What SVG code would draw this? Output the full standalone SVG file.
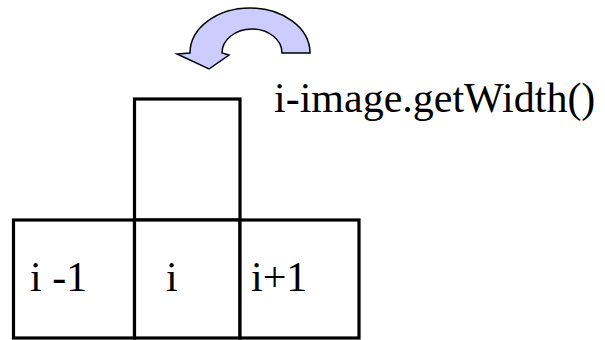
<svg xmlns="http://www.w3.org/2000/svg" width="605" height="340" viewBox="0 0 605 340">
  <style>
    .cell { fill: #ffffff; stroke: #000000; stroke-width: 3.2; }
    .lbl { font-family: "Liberation Serif", "Times New Roman", serif; font-size: 42px; fill: #000000; }
    .turn { fill: #ccccff; stroke: #000000; stroke-width: 1.5; stroke-linejoin: miter; }
  </style>
  <rect width="605" height="340" fill="#ffffff"/>

  <!-- curved arrow pointing back one row -->
  <g id="connectors">
    <path class="turn" d="M310,53 A60,45 0 0 0 190,53 L177,54 L209,69 L229,55 L222,53 A30,24 0 0 1 282,53 Z"/>
  </g>

  <!-- pixel above the current one -->
  <g id="cell-up">
    <rect class="cell" x="134.5" y="99" width="105.5" height="121"/>
  </g>

  <!-- row of three pixels -->
  <g id="cell-prev">
    <rect class="cell" x="13.5" y="220" width="121" height="118"/>
    <text class="lbl" x="30" y="291">i -1</text>
  </g>
  <g id="cell-cur">
    <rect class="cell" x="134.5" y="220" width="105.5" height="118"/>
    <text class="lbl" x="166" y="291">i</text>
  </g>
  <g id="cell-next">
    <rect class="cell" x="240" y="220" width="119" height="118"/>
    <text class="lbl" x="251" y="291">i+1</text>
  </g>

  <g id="label-up">
    <text class="lbl" x="274" y="112">i-image.getWidth()</text>
  </g>
</svg>
